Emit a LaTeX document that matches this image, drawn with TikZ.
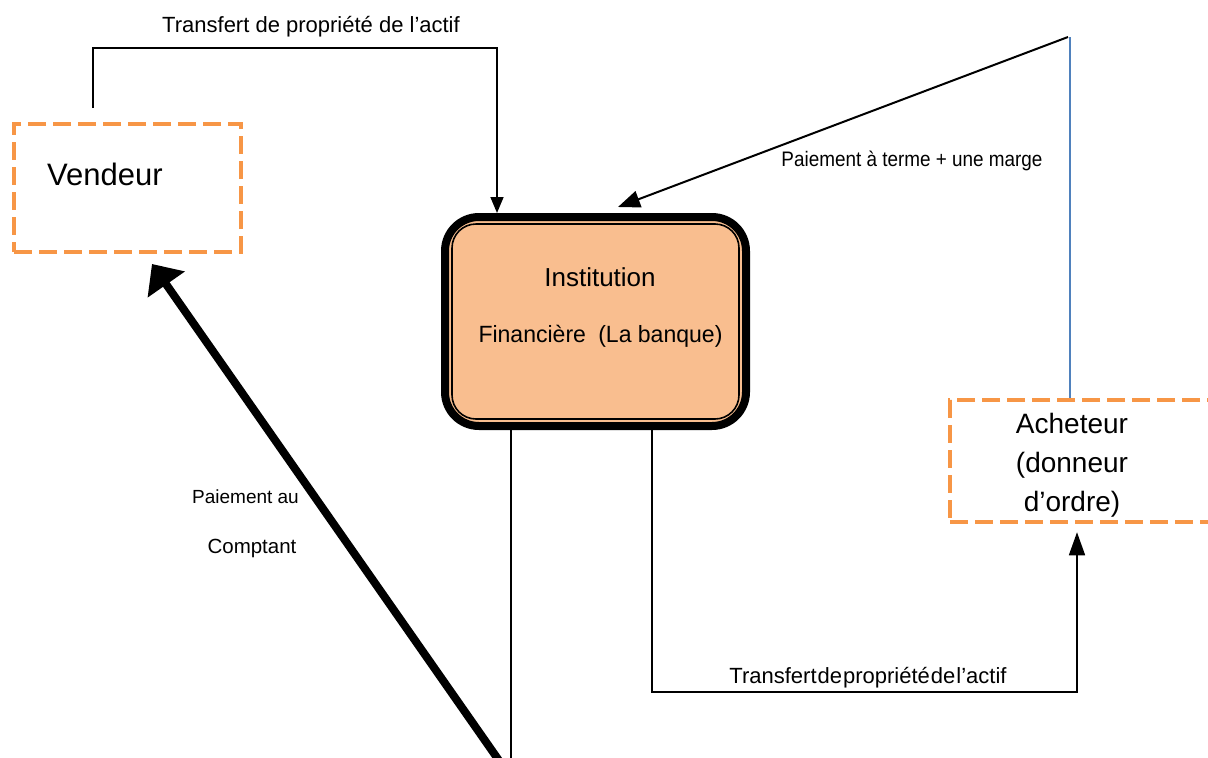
\documentclass[tikz,border=0pt]{standalone}
\usepackage{fontspec}
\setmainfont{Liberation Sans}
\usetikzlibrary{arrows.meta,calc,positioning}
\definecolor{dashorange}{RGB}{247,150,70}
\definecolor{bankfill}{RGB}{249,190,143}
\definecolor{linkblue}{RGB}{79,129,189}

\begin{document}
\begin{tikzpicture}[x=1pt, y=-1pt,
    partybox/.style={rectangle, draw=dashorange, line width=4.5pt, dash pattern=on 18pt off 7pt},
    bankbox/.style={rectangle, rounded corners=34pt, draw=black, line width=8pt, fill=bankfill,
      minimum width=301pt, minimum height=209pt},
    flow/.style={draw=black, line width=1.6pt},
    txt/.style={inner sep=0pt, anchor=base}]

  \useasboundingbox (0,0) rectangle (1208,758);

  % Define nodes
  \node[partybox, minimum width=227pt, minimum height=128pt] (vendeur) at (127.5,188) {};
  \node[txt, anchor=base west, font=\fontsize{31}{36}\selectfont] (vendeurtxt) at (47,185) {Vendeur};

  \node[bankbox] (inst) at (595.5,321.5) {};
  \draw[line width=1.6pt, rounded corners=24pt] ($(inst.north west)+(11,11)$) rectangle ($(inst.south east)+(-11,-11)$);
  \node[txt, font=\fontsize{26}{30}\selectfont] (instname) at (600,286) {Institution};
  \node[txt, font=\fontsize{23.5}{28}\selectfont, xscale=0.98] (instsub) at (600.5,342) {Financière\hspace{6pt} (La banque)};

  \node[partybox, minimum width=264pt, minimum height=122pt] (acheteur) at (1082,461) {};
  \node[align=center, inner sep=0pt, font=\fontsize{28}{39}\selectfont] (acheteurtxt) at (1072,465)
    {Acheteur\\(donneur\\d’ordre)};

  \coordinate (vtop) at (93,108);
  \coordinate (tcorner) at (497,48);
  \coordinate (bpeak) at (1070,37);
  \coordinate (dstart) at (1068,37);
  \coordinate (dtip) at (618,207);
  \coordinate (bcorner) at (652,692);
  \coordinate (rcorner) at (1077,692);
  \coordinate (pbot) at (500,762);
  \coordinate (ptip) at (152,264);
  \coordinate (lbot) at (511,762);

  % Connectors
  \draw[flow, -{Triangle[length=16pt, width=13pt]}] (vtop) |- (tcorner) -- (tcorner |- inst.north);
  \draw[linkblue, line width=2pt] (bpeak |- acheteur.north) -- (bpeak);
  \draw[flow, line width=2pt, -{Triangle[length=22pt, width=17pt]}] (dstart) -- (dtip);
  \draw[flow, -{Triangle[length=23pt, width=16pt]}] (bcorner |- inst.south) -- (bcorner) -- (rcorner) -- ($(rcorner |- acheteur.south)+(0,8)$);
  \draw[flow, line width=2pt] (lbot |- inst.south) -- (lbot);
  \draw[flow, line width=8pt, -{Triangle[length=25pt, width=44pt]}] (pbot) -- (ptip);

  % Labels
  \node[txt, font=\fontsize{22}{26}\selectfont] (toplbl) at (311,32) {Transfert de propriété de l’actif};
  \node[txt, font=\fontsize{21}{25}\selectfont, xscale=0.9] (margelbl) at (912,166) {Paiement à terme + une marge};
  \node[txt, font=\fontsize{19}{23}\selectfont] (cashlbl) at (245.5,503) {Paiement au};
  \node[txt, font=\fontsize{20.5}{24}\selectfont] (cashlbl2) at (252,553) {Comptant};
  \node[txt, font=\fontsize{22}{26}\selectfont] (botlbl) at (868,683) {\spaceskip=1pt Transfert de propriété de l’actif};

\end{tikzpicture}
\end{document}
